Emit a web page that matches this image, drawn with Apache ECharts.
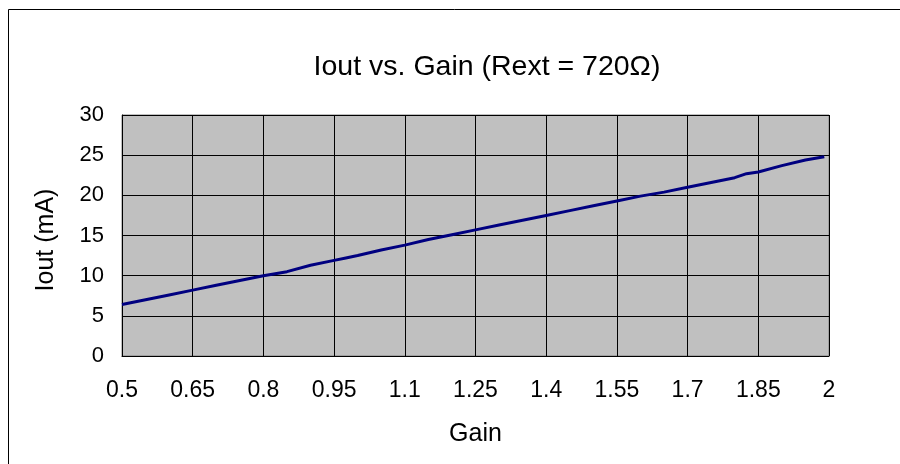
<!DOCTYPE html>
<html>
<head>
<meta charset="utf-8">
<script src="https://cdn.jsdelivr.net/npm/echarts@6/dist/echarts.min.js"></script>
<style>html,body{margin:0;padding:0;background:#fff;}#c{width:900px;height:464px;}</style>
</head>
<body>
<div id="c"></div>
<script>
// Data
const gain = [0.5, 0.55, 0.6, 0.65, 0.7, 0.75, 0.8, 0.85, 0.9, 0.95, 0.975, 1.0, 1.05, 1.1, 1.15, 1.2, 1.25, 1.3, 1.35, 1.4, 1.45, 1.5, 1.55, 1.6, 1.65, 1.7, 1.75, 1.8, 1.825, 1.85, 1.9, 1.95, 1.99];
const iout = [6.4, 7.0, 7.6, 8.2, 8.8, 9.4, 10.0, 10.5, 11.3, 11.9, 12.2, 12.5, 13.2, 13.8, 14.5, 15.1, 15.7, 16.3, 16.9, 17.5, 18.1, 18.7, 19.3, 19.9, 20.4, 21.0, 21.6, 22.2, 22.7, 22.9, 23.7, 24.4, 24.8];
const xTicks = [0.5, 0.65, 0.8, 0.95, 1.1, 1.25, 1.4, 1.55, 1.7, 1.85, 2];
const yTicks = [0, 5, 10, 15, 20, 25, 30];
const titleText = 'Iout vs. Gain (Rext = 720\u03A9)';
const xName = 'Gain';
const yName = 'Iout (mA)';

const chart = echarts.init(document.getElementById('c'), null, {renderer: 'canvas'});
const FONT = 'Liberation Sans, Arial, sans-serif';
chart.setOption({
  animation: false,
  backgroundColor: '#fff',
  title: {
    text: titleText,
    left: 482, top: 48, textAlign: 'center',
    textStyle: {fontFamily: FONT, fontSize: 28.5, fontWeight: 'normal', color: '#000'}
  },
  graphic: [{
    type: 'rect', shape: {x: 8.5, y: 9.5, width: 960, height: 500},
    style: {fill: 'none', stroke: '#000', lineWidth: 1}
  }],
  grid: {
    left: 122, right: 71, top: 115, bottom: 108,
    show: true, backgroundColor: '#C0C0C0', borderColor: '#808080', borderWidth: 1
  },
  xAxis: {
    type: 'value', min: xTicks[0], max: xTicks[xTicks.length - 1], interval: 0.15,
    name: xName, nameLocation: 'middle', nameGap: 66,
    nameTextStyle: {fontFamily: FONT, fontSize: 25, color: '#000'},
    axisLine: {show: true, lineStyle: {color: '#000', width: 1}},
    axisTick: {show: true, inside: true, length: 4, lineStyle: {color: '#000'}},
    splitLine: {show: true, lineStyle: {color: '#000', width: 1}},
    axisLabel: {
      margin: 23, fontFamily: FONT, fontSize: 23, color: '#000',
      formatter: v => String(+(+v).toFixed(2))
    }
  },
  yAxis: {
    type: 'value', min: yTicks[0], max: yTicks[yTicks.length - 1], interval: 5,
    name: yName, nameLocation: 'middle', nameGap: 63, nameRotate: 90,
    nameTextStyle: {fontFamily: FONT, fontSize: 25, color: '#000', padding: [0, 9, 0, 0]},
    axisLine: {show: true, lineStyle: {color: '#000', width: 1}},
    axisTick: {show: true, inside: true, length: 4, lineStyle: {color: '#000'}},
    splitLine: {show: true, lineStyle: {color: '#000', width: 1}},
    axisLabel: {margin: 18, fontFamily: FONT, fontSize: 22, color: '#000'}
  },
  series: [{
    type: 'line',
    data: gain.map((g, i) => [g, iout[i]]),
    showSymbol: false, smooth: false,
    lineStyle: {color: '#000080', width: 3},
    itemStyle: {color: '#000080'}
  }]
});
</script>
</body>
</html>
